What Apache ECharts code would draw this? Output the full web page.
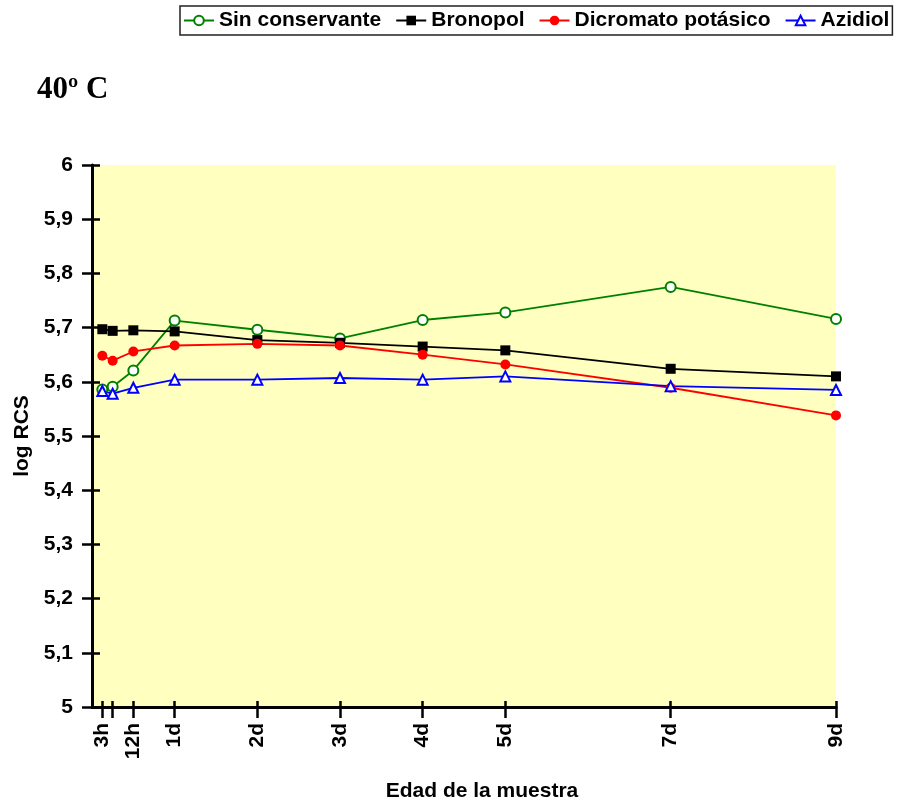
<!DOCTYPE html>
<html>
<head>
<meta charset="utf-8">
<script src="https://cdn.jsdelivr.net/npm/echarts@6/dist/echarts.min.js"></script>
<style>
  html, body { margin: 0; padding: 0; background: #fff; }
  #chart { width: 900px; height: 807px; }
</style>
</head>
<body>
<div id="chart"></div>
<script>
// Sample age in hours and measured log RCS per preservative (40 ºC)
var hours = [3, 6, 12, 24, 48, 72, 96, 120, 168, 216];
var sinConservante = [5.586, 5.591, 5.621, 5.713, 5.696, 5.680, 5.714, 5.728, 5.775, 5.716];
var bronopol = [5.697, 5.694, 5.695, 5.693, 5.677, 5.672, 5.665, 5.658, 5.624, 5.610];
var dicromato = [5.648, 5.639, 5.656, 5.667, 5.670, 5.667, 5.650, 5.632, 5.589, 5.538];
var azidiol = [5.583, 5.578, 5.589, 5.604, 5.604, 5.607, 5.604, 5.610, 5.592, 5.585];

// X axis ticks (hours) and their labels
var tickHours = [3, 6, 12, 24, 48, 72, 96, 120, 168, 216];
var labelHours = [3, 12, 24, 48, 72, 96, 120, 168, 216];
var labelTexts = ['3h', '12h', '1d', '2d', '3d', '4d', '5d', '7d', '9d'];

function pairs(ys) {
  return hours.map(function (h, i) { return [h, ys[i]]; });
}

var sans = 'Liberation Sans, Arial, sans-serif';
var labelFont = { fontFamily: sans, fontSize: 21, fontWeight: 'bold', color: '#000' };

var chart = echarts.init(document.getElementById('chart'), null, { renderer: 'canvas' });

chart.setOption({
  animation: false,
  backgroundColor: '#fff',
  title: {
    text: '40º C',
    left: 37,
    top: 74,
    padding: 0,
    textStyle: { fontFamily: 'Liberation Serif, Times New Roman, serif', fontSize: 31, fontWeight: 'bold', color: '#000' }
  },
  legend: {
    left: 180,
    right: 0,
    top: 6,
    padding: [4, 3, 4, 3],
    itemGap: 14,
    itemWidth: 30,
    itemHeight: 12,
    backgroundColor: '#fff',
    borderColor: '#222',
    borderWidth: 1.5,
    textStyle: { fontFamily: sans, fontSize: 21, fontWeight: 'bold', color: '#000' },
    data: ['Sin conservante', 'Bronopol', 'Dicromato potásico', 'Azidiol']
  },
  grid: {
    left: 92,
    right: 64,
    top: 165,
    bottom: 100,
    show: true,
    backgroundColor: '#FFFFC0',
    borderWidth: 0
  },
  xAxis: [
    {
      type: 'value',
      position: 'bottom',
      min: 0,
      max: 216,
      name: 'Edad de la muestra',
      nameLocation: 'middle',
      nameGap: 74,
      nameTextStyle: Object.assign({}, labelFont, { padding: [0, 0, 0, 36] }),
      axisLine: { show: true, onZero: false, lineStyle: { color: '#000', width: 3 } },
      axisTick: { show: true, inside: false, length: 11, lineStyle: { color: '#000', width: 2.5 }, customValues: tickHours },
      axisLabel: {
        show: true,
        rotate: 90,
        margin: 16,
        customValues: labelHours,
        formatter: function (v) {
          var i = labelHours.indexOf(v);
          return i >= 0 ? labelTexts[i] : '';
        },
        fontFamily: sans, fontSize: 21, fontWeight: 'bold', color: '#000'
      },
      splitLine: { show: false }
    },
    {
      type: 'value',
      position: 'bottom',
      min: 0,
      max: 216,
      axisLine: { show: false },
      axisTick: { show: true, inside: true, length: 6, lineStyle: { color: '#000', width: 2.5 }, customValues: tickHours },
      axisLabel: { show: false },
      splitLine: { show: false }
    }
  ],
  yAxis: [
    {
      type: 'value',
      position: 'left',
      min: 5,
      max: 6,
      interval: 0.1,
      name: 'log RCS',
      nameLocation: 'middle',
      nameGap: 58,
      nameRotate: 90,
      nameTextStyle: labelFont,
      axisLine: { show: true, onZero: false, lineStyle: { color: '#000', width: 3 } },
      axisTick: { show: true, inside: false, length: 10, lineStyle: { color: '#000', width: 2.5 } },
      axisLabel: {
        margin: 19,
        formatter: function (v) { return (Math.round(v * 10) / 10).toString().replace('.', ','); },
        fontFamily: sans, fontSize: 21, fontWeight: 'bold', color: '#000'
      },
      splitLine: { show: false }
    },
    {
      type: 'value',
      position: 'left',
      min: 5,
      max: 6,
      interval: 0.1,
      axisLine: { show: false },
      axisTick: { show: true, inside: true, length: 8, lineStyle: { color: '#000', width: 2.5 } },
      axisLabel: { show: false },
      splitLine: { show: false }
    }
  ],
  series: [
    {
      name: 'Sin conservante',
      type: 'line',
      data: pairs(sinConservante),
      symbol: 'emptyCircle',
      symbolSize: 10,
      itemStyle: { color: '#008000', borderWidth: 1.5 },
      lineStyle: { color: '#008000', width: 1.8 }
    },
    {
      name: 'Bronopol',
      type: 'line',
      data: pairs(bronopol),
      symbol: 'rect',
      symbolSize: 10,
      itemStyle: { color: '#000' },
      lineStyle: { color: '#000', width: 1.8 }
    },
    {
      name: 'Dicromato potásico',
      type: 'line',
      data: pairs(dicromato),
      symbol: 'circle',
      symbolSize: 10,
      itemStyle: { color: '#FF0000' },
      lineStyle: { color: '#FF0000', width: 1.8 }
    },
    {
      name: 'Azidiol',
      type: 'line',
      data: pairs(azidiol),
      symbol: 'emptyTriangle',
      symbolSize: 10,
      itemStyle: { color: '#0000FF', borderWidth: 1.5 },
      lineStyle: { color: '#0000FF', width: 1.8 }
    }
  ]
});
</script>
</body>
</html>
